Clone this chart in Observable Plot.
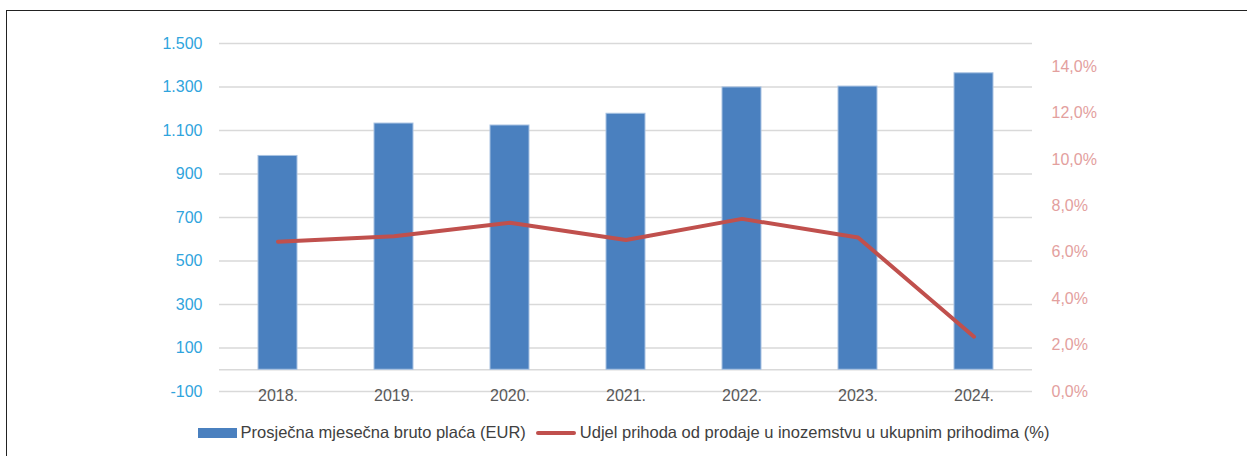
<!DOCTYPE html>
<html><head><meta charset="utf-8">
<script src="https://cdn.jsdelivr.net/npm/d3@7"></script>
<script src="https://cdn.jsdelivr.net/npm/@observablehq/plot@0.6"></script>
<style>
body{margin:0;background:#fff;font-family:"Liberation Sans",Arial,sans-serif;}
#wrap{position:relative;width:1247px;height:456px;overflow:hidden;}
#frame{position:absolute;left:6px;top:10px;width:1400px;height:600px;border-top:1px solid #222;border-left:1px solid #222;}
#chart{position:absolute;left:0;top:0;}
#legend{position:absolute;top:423px;left:0;width:1247px;display:flex;justify-content:center;align-items:center;font-size:16.5px;color:#404040;white-space:nowrap;}
.sw{display:inline-block;margin-right:4px;}
</style></head><body>
<div id="wrap"><div id="frame"></div><div id="chart"></div><div id="legend"></div></div>
<script>
const years = ["2018.","2019.","2020.","2021.","2022.","2023.","2024."];
const salary = [983,1132,1123,1177,1298,1302,1363];
const exportShare = [6.46,6.69,7.27,6.53,7.44,6.64,2.36];
const leftTicks = [-100,100,300,500,700,900,1100,1300,1500];
const rightTicks = [0,2,4,6,8,10,12,14];
const seriesNames = ["Prosječna mjesečna bruto plaća (EUR)","Udjel prihoda od prodaje u inozemstvu u ukupnim prihodima (%)"];
const seriesColors = ["#4a80bf","#c0504d"];

const yMin=-100, yMax=1500, pMax=15;
const toLeft = p => yMin + p*(yMax-yMin)/pMax;
const fromLeft = v => (v - yMin)*pMax/(yMax-yMin);

const bars = years.map((y,i)=>({year:y, value:salary[i]}));
const line = years.map((y,i)=>({year:y, v: toLeft(exportShare[i])}));
const fmtLeft = d => d3.format(",")(d).replace(/,/g,".").replace("\u2212","-");
const fmtPct = p => p.toFixed(1).replace(".",",")+"%";

const chart = Plot.plot({
  width:1247, height:410, marginTop:43, marginBottom:19, marginLeft:219, marginRight:215,
  style:{fontFamily:"'Liberation Sans', Arial, sans-serif", fontSize:"16px", background:"transparent"},
  x:{domain:years, type:"band", paddingInner:0.664, paddingOuter:0.332, axis:null},
  y:{domain:[yMin,yMax], axis:null},
  marks:[
    Plot.ruleY(leftTicks.concat([0]), {stroke:"#d9d9d9", strokeWidth:1.5}),
    Plot.barY(bars,{x:"year", y:"value", fill:seriesColors[0], stroke:"#a8c2e2", strokeWidth:1}),
    Plot.lineY(line,{x:"year", y:"v", stroke:seriesColors[1], strokeWidth:4, strokeLinejoin:"round", strokeLinecap:"round"}),
    Plot.axisY(leftTicks, {anchor:"left", tickSize:0, tickPadding:17, tickFormat:fmtLeft, fill:"#2fa4dd", label:null}),
    Plot.axisY(rightTicks.map(toLeft), {anchor:"right", tickSize:0, tickPadding:19, tickFormat:v=>fmtPct(Math.round(fromLeft(v)*10)/10), fill:"#e3a09e", label:null}),
    Plot.axisX({anchor:"bottom", tickSize:0, tickPadding:-2, fill:"#595959", label:null})
  ]
});
document.getElementById("chart").appendChild(chart);

const lg = document.getElementById("legend");
lg.innerHTML =
  `<span class="sw" style="width:39px;height:10px;background:${seriesColors[0]}"></span><span>${seriesNames[0]}</span>` +
  `<span class="sw" style="width:40px;height:4px;border-radius:2px;background:${seriesColors[1]};margin-left:10px"></span><span>${seriesNames[1]}</span>`;
</script>
</body></html>
